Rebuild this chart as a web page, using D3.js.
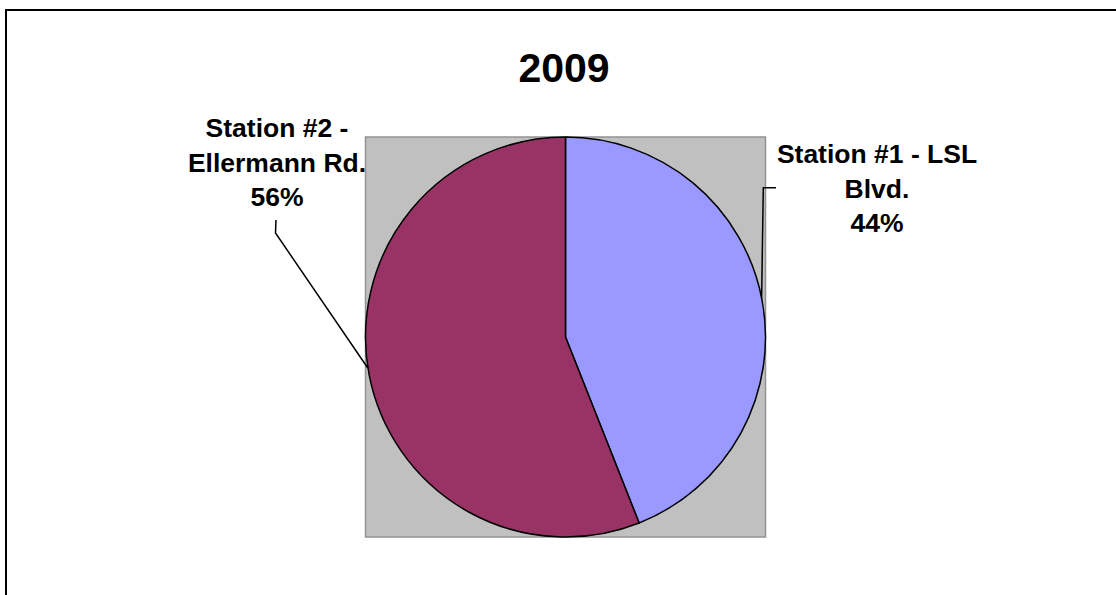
<!DOCTYPE html>
<html>
<head>
<meta charset="utf-8">
<script src="https://cdn.jsdelivr.net/npm/d3@7"></script>
<style>
  html, body { margin: 0; padding: 0; background: #fff; }
  svg { display: block; }
  text { font-family: "Liberation Sans", Arial, sans-serif; font-weight: bold; fill: #000; }
</style>
</head>
<body>
<svg id="chart" width="1116" height="595"></svg>
<script>
const title = "2009";
const categories = ["Station #1 - LSL Blvd.", "Station #2 - Ellermann Rd."];
const values = [44, 56];
const labelLines = [["Station #1 - LSL", "Blvd.", "44%"], ["Station #2 -", "Ellermann Rd.", "56%"]];
const colors = ["#9999FF", "#993366"];

const W = 1116, H = 595;
const svg = d3.select("#chart");

// outer frame (extends beyond right/bottom edges)
svg.append("rect").attr("x", 6).attr("y", 10).attr("width", 1200).attr("height", 700)
  .attr("fill", "none").attr("stroke", "#000").attr("stroke-width", 2);

// title
svg.append("text").attr("x", 564).attr("y", 82).attr("text-anchor", "middle")
  .style("font-size", "41px").text(title);

// plot area
const cx = 565.5, cy = 337, r = 200;
svg.append("rect").attr("x", cx - r).attr("y", cy - r).attr("width", 2 * r).attr("height", 2 * r)
  .attr("fill", "#C0C0C0").attr("stroke", "#929292").attr("stroke-width", 1.5);

const pie = d3.pie().sort(null).value(d => d)(values);
const arc = d3.arc().innerRadius(0).outerRadius(r);
const g = svg.append("g").attr("transform", `translate(${cx},${cy})`);
g.selectAll("path").data(pie).join("path")
  .attr("d", arc)
  .attr("fill", (d, i) => colors[i])
  .attr("stroke", "#000").attr("stroke-width", 1.5).attr("stroke-linejoin", "round");

// labels
const labelPos = [{x: 877, y: 163}, {x: 277, y: 137}];
const lineH = 34.5;
labelLines.forEach((lines, i) => {
  const t = svg.append("text").attr("text-anchor", "middle").style("font-size", "26.5px");
  lines.forEach((s, j) => {
    t.append("tspan").attr("x", labelPos[i].x).attr("y", labelPos[i].y + j * lineH).text(s);
  });
});

// leader lines (end points on the pie edge)
const edge = a => [cx + r * Math.sin(a), cy - r * Math.cos(a)];
const leaderAngles = [78.7 * Math.PI / 180, 261 * Math.PI / 180];
const leaders = [
  [[776, 187.7], [763.3, 187.7], edge(leaderAngles[0])],
  [[276, 220], [275.5, 233], edge(leaderAngles[1])]
];
svg.selectAll("path.leader").data(leaders).join("path")
  .attr("class", "leader")
  .attr("d", d3.line())
  .attr("fill", "none").attr("stroke", "#000").attr("stroke-width", 1.5);
</script>
</body>
</html>
